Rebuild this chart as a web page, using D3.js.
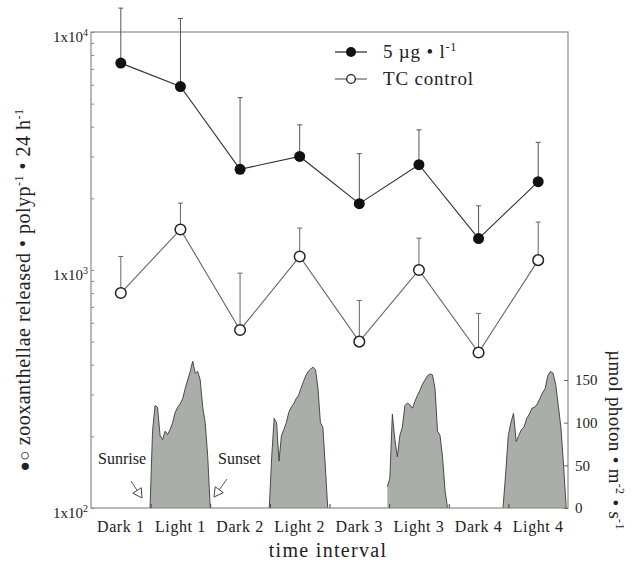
<!DOCTYPE html>
<html>
<head>
<meta charset="utf-8">
<script src="https://cdn.jsdelivr.net/npm/d3@7"></script>
<style>
  body { margin: 0; background: #fff; }
  svg text { font-family: "Liberation Serif", "DejaVu Serif", serif; fill: #222; }
</style>
</head>
<body>
<svg id="chart" width="637" height="567"></svg>
<script>
// time intervals on the x axis
var intervals = ["Dark 1", "Light 1", "Dark 2", "Light 2", "Dark 3", "Light 3", "Dark 4", "Light 4"];

// zooxanthellae released per polyp per 24 h (means and upper error bar)
var treated      = [7400, 5900, 2650, 3000, 1900, 2770, 1355, 2350];
var treatedUpper = [12600, 11400, 5300, 4070, 3080, 3880, 1860, 3440];
var control      = [800, 1480, 560, 1140, 500, 1000, 450, 1100];
var controlUpper = [1140, 1910, 970, 1500, 745, 1360, 657, 1590];

var leftTicks = [100, 1000, 10000];
var rightTicks = [0, 50, 100, 150];

// light periods (start/end in interval units) and PAR readings across each
var lightStart = [0.99, 2.99, 4.97, 6.91];
var lightEnd   = [2.0, 3.97, 5.98, 7.97];
var light1 = [0, 90, 120, 118, 85, 80, 90, 86, 92, 100, 112, 118, 122, 128, 140, 150, 160, 172, 158, 160, 150, 118, 100, 60, 0];
var light2 = [0, 60, 105, 100, 55, 85, 92, 100, 112, 118, 122, 128, 132, 140, 148, 155, 160, 163, 165, 162, 140, 100, 95, 50, 0];
var light3 = [25, 35, 110, 80, 60, 85, 95, 120, 123, 121, 117, 125, 132, 138, 145, 150, 155, 157, 156, 140, 90, 85, 60, 20, 0];
var light4 = [0, 40, 85, 100, 111, 78, 85, 92, 95, 105, 110, 117, 118, 122, 128, 135, 140, 155, 160, 158, 145, 120, 94, 50, 0];
var lightSeries = [light1, light2, light3, light4];

(function drawChart() {
  var svg = d3.select('#chart');
  var mLeft = 91, mRight = 568, mTop = 32, mBottom = 508;

  var x = d3.scaleBand().domain(intervals).range([mLeft, mRight]);
  var xt = d3.scaleLinear().domain([0, 8]).range([mLeft, mRight]);
  var y = d3.scaleLog().domain([100, 10000]).range([mBottom, mTop]);
  var yPar = d3.scaleLinear().domain([0, 150]).range([mBottom, 380]);
  var cx = function(d, i) { return x(intervals[i]) + x.bandwidth() / 2; };

  // light curves behind everything
  lightSeries.forEach(function(vals, k) {
    var s = lightStart[k], e = lightEnd[k], n = vals.length;
    var tx = function(d, i) { return xt(s + i * (e - s) / (n - 1)); };
    svg.append('path').datum(vals)
      .attr('d', d3.area().x(tx).y0(yPar(0)).y1(function(d) { return yPar(d); }))
      .attr('fill', '#a9aea9');
    svg.append('path').datum(vals)
      .attr('d', d3.line().x(tx).y(function(d) { return yPar(d); }))
      .attr('fill', 'none').attr('stroke', '#3a3a3a').attr('stroke-width', 0.9);
  });

  // frame
  svg.append('rect')
    .attr('x', mLeft).attr('y', mTop).attr('width', mRight - mLeft).attr('height', mBottom - mTop)
    .attr('fill', 'none').attr('stroke', '#8a8a8a').attr('stroke-width', 1.2);

  // left log axis: minor ticks inward
  var minor = [];
  [100, 1000].forEach(function(dec) { for (var m = 2; m <= 9; m++) minor.push(dec * m); });
  var gl = svg.append('g').attr('transform', 'translate(' + mLeft + ',0)')
    .call(d3.axisRight(y).tickValues(minor.concat(leftTicks)).tickSize(3).tickFormat(''));
  gl.select('.domain').remove();
  gl.selectAll('line').attr('stroke', '#888');

  leftTicks.forEach(function(v) {
    var t = svg.append('text')
      .attr('x', mLeft - 3).attr('y', y(v) + 10)
      .attr('text-anchor', 'end').attr('font-size', 15);
    t.append('tspan').text('1x10');
    t.append('tspan').attr('dy', -6).attr('font-size', 10).text(Math.round(Math.log10(v)));
  });

  // right PAR axis
  var gr = svg.append('g').attr('transform', 'translate(' + mRight + ',0)')
    .call(d3.axisRight(yPar).tickValues(rightTicks).tickSize(-4).tickPadding(7));
  gr.select('.domain').remove();
  gr.selectAll('line').attr('stroke', '#666');
  gr.selectAll('text').attr('font-size', 15).attr('font-family', '"Liberation Serif", serif').attr('fill', '#222');

  // bottom ticks at interval boundaries
  var gb = svg.append('g').attr('transform', 'translate(0,' + mBottom + ')')
    .call(d3.axisBottom(xt).tickValues([1, 2, 3, 4, 5, 6, 7]).tickSize(-4).tickFormat(''));
  gb.select('.domain').remove();
  gb.selectAll('line').attr('stroke', '#444');

  svg.selectAll('.xlab').data(intervals).enter().append('text')
    .attr('class', 'xlab')
    .attr('x', function(d) { return x(d) + x.bandwidth() / 2; })
    .attr('y', 532)
    .attr('text-anchor', 'middle').attr('font-size', 16).attr('letter-spacing', 0.6)
    .text(function(d) { return d; });

  svg.append('text').attr('x', 328).attr('y', 557)
    .attr('text-anchor', 'middle').attr('font-size', 20).attr('letter-spacing', 1.3)
    .text('time interval');

  // axis titles
  var lt = svg.append('text')
    .attr('transform', 'translate(30,290) rotate(-90)')
    .attr('text-anchor', 'middle').attr('font-size', 20).attr('letter-spacing', 0.5);
  lt.append('tspan').attr('font-size', 17).text('\u25CF\u25CB ');
  lt.append('tspan').text('zooxanthellae released \u2022 polyp');
  lt.append('tspan').attr('dy', -7).attr('font-size', 12).text('-1');
  lt.append('tspan').attr('dy', 7).text(' \u2022 24 h');
  lt.append('tspan').attr('dy', -7).attr('font-size', 12).text('-1');

  var rt = svg.append('text')
    .attr('transform', 'translate(609,440) rotate(90)')
    .attr('text-anchor', 'middle').attr('font-size', 19).attr('letter-spacing', 0.3);
  rt.append('tspan').text('\u00B5mol photon \u2022 m');
  rt.append('tspan').attr('dy', -7).attr('font-size', 12).text('-2');
  rt.append('tspan').attr('dy', 7).text(' \u2022 s');
  rt.append('tspan').attr('dy', -7).attr('font-size', 12).text('-1');

  // sunrise / sunset annotations
  function hollowArrow(x1, y1, x2, y2) {
    var ang = Math.atan2(y2 - y1, x2 - x1);
    var len = 9, wid = 5;
    var bx = x2 - len * Math.cos(ang), by = y2 - len * Math.sin(ang);
    var px = -Math.sin(ang) * wid, py = Math.cos(ang) * wid;
    svg.append('line').attr('x1', x1).attr('y1', y1).attr('x2', bx).attr('y2', by)
      .attr('stroke', '#555').attr('stroke-width', 1);
    svg.append('path')
      .attr('d', 'M' + x2 + ',' + y2 + 'L' + (bx + px) + ',' + (by + py) + 'L' + (bx - px) + ',' + (by - py) + 'Z')
      .attr('fill', '#fff').attr('stroke', '#444').attr('stroke-width', 1);
  }
  svg.append('text').attr('x', 98).attr('y', 464).attr('font-size', 16).text('Sunrise');
  hollowArrow(131, 481, 142, 498);
  svg.append('text').attr('x', 218).attr('y', 464).attr('font-size', 16).text('Sunset');
  hollowArrow(227, 479, 214, 497);

  // error bars (upper only)
  function errorBars(means, uppers, color) {
    var g = svg.append('g');
    intervals.forEach(function(c, i) {
      var px = cx(null, i);
      g.append('line').attr('x1', px).attr('x2', px)
        .attr('y1', y(means[i])).attr('y2', y(uppers[i]))
        .attr('stroke', color).attr('stroke-width', 1);
      g.append('line').attr('x1', px - 2.5).attr('x2', px + 2.5)
        .attr('y1', y(uppers[i])).attr('y2', y(uppers[i]))
        .attr('stroke', color).attr('stroke-width', 1);
    });
  }
  errorBars(treated, treatedUpper, '#555');
  errorBars(control, controlUpper, '#666');

  var line = d3.line().x(cx).y(function(d) { return y(d); });
  svg.append('path').attr('d', line(treated)).attr('fill', 'none')
    .attr('stroke', '#333').attr('stroke-width', 1.1);
  svg.append('path').attr('d', line(control)).attr('fill', 'none')
    .attr('stroke', '#666').attr('stroke-width', 1.1);

  svg.selectAll('.dotT').data(treated).enter().append('circle')
    .attr('cx', cx).attr('cy', function(d) { return y(d); })
    .attr('r', 5.5).attr('fill', '#111');
  svg.selectAll('.dotC').data(control).enter().append('circle')
    .attr('cx', cx).attr('cy', function(d) { return y(d); })
    .attr('r', 5.3).attr('fill', '#fff').attr('stroke', '#222').attr('stroke-width', 1.5);

  // legend
  var legend = svg.append('g');
  legend.append('line').attr('x1', 335).attr('x2', 367).attr('y1', 52).attr('y2', 52)
    .attr('stroke', '#222').attr('stroke-width', 1.2);
  legend.append('circle').attr('cx', 351).attr('cy', 52).attr('r', 5).attr('fill', '#111');
  var l1 = legend.append('text').attr('x', 383).attr('y', 58).attr('font-size', 19).attr('letter-spacing', 0.8);
  l1.append('tspan').text('5 \u00B5g \u2022 l');
  l1.append('tspan').attr('dy', -7).attr('font-size', 12).text('-1');
  legend.append('line').attr('x1', 335).attr('x2', 367).attr('y1', 79).attr('y2', 79)
    .attr('stroke', '#444').attr('stroke-width', 1);
  legend.append('circle').attr('cx', 351).attr('cy', 79).attr('r', 4.3)
    .attr('fill', '#fff').attr('stroke', '#222').attr('stroke-width', 1.3);
  legend.append('text').attr('x', 383).attr('y', 85).attr('font-size', 19).attr('letter-spacing', 0.8)
    .text('TC control');
})();
</script>
</body>
</html>
